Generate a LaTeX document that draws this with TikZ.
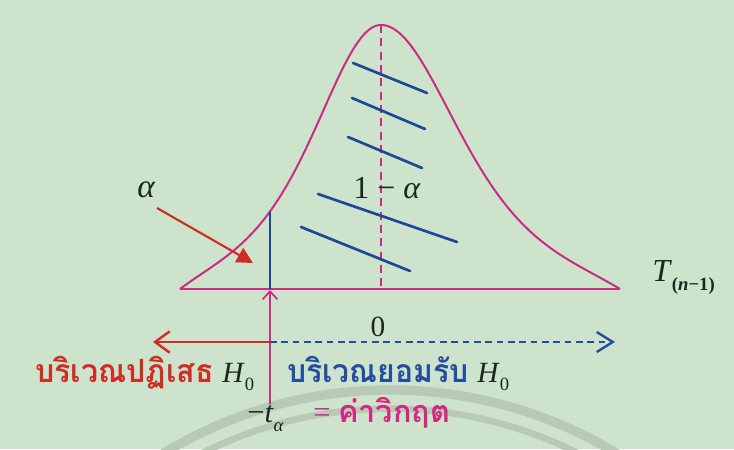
\documentclass[tikz,border=0pt]{standalone}
\usepackage{fontspec}
\setmainfont{Liberation Serif}
\newfontfamily\thaifont[Script=Thai]{Loma}
\usetikzlibrary{arrows.meta}
\definecolor{bgc}{RGB}{206,227,204}
\definecolor{arcc}{RGB}{184,202,182}
\definecolor{curvec}{RGB}{200,45,130}
\definecolor{hatchc}{RGB}{28,72,150}
\definecolor{redc}{RGB}{205,45,35}
\definecolor{bluec}{RGB}{35,78,160}
\definecolor{pinkc}{RGB}{210,40,130}
\definecolor{inkc}{RGB}{25,40,30}
\tikzset{
  curveline/.style={draw=curvec, line width=1.5pt},
  hatchline/.style={draw=hatchc, line width=2pt, line cap=round},
  mathlbl/.style={inner sep=0pt, text=inkc},
  thailbl/.style={inner sep=0pt, anchor=base west, font=\fontsize{24}{24}\selectfont\thaifont\bfseries},
}
\begin{document}
\begin{tikzpicture}[x=0.75pt,y=-0.75pt]
\fill[bgc] (0,0) rectangle (734,449);
\useasboundingbox (0,0) rectangle (734,449);
% watermark arcs
\begin{scope}
\clip (0,0) rectangle (734,449);
\draw[arcc, line width=7pt] (390,826) circle[radius=327pt];
\draw[arcc, line width=5pt] (390,826) circle[radius=313pt];
\end{scope}
% baseline and curve
\coordinate (bl) at (180,289);
\coordinate (br) at (620,289);
\coordinate (peak) at (381,25);
\coordinate (center0) at (381,289);
\draw[curveline] (bl) -- (br);
\draw[curveline, line join=round]
  plot[domain=180:381, samples=90, smooth]
    (\x, {289-264*(exp(-2.5*ln(1+((\x-381)/70)^2/4))-0.061*((381-\x)/201)^6)})
  -- plot[domain=381:620, samples=100, smooth]
    (\x, {289-264*(exp(-2.5*ln(1+((\x-381)/82)^2/4))-0.058*((\x-381)/239)^6)});
\draw[curvec, line width=1.5pt, dash pattern=on 6pt off 4pt] (peak) -- (center0);
% hatch lines
\draw[hatchline] (353,63) -- (427,93);
\draw[hatchline] (352,98) -- (425,129);
\draw[hatchline] (348,137) -- (422,168);
\draw[hatchline] (318,194) -- (457,242);
\draw[hatchline] (301,227) -- (410,271);
% critical value line
\coordinate (ctop) at (270,212);
\coordinate (cbase) at (270,289);
\draw[hatchc, line width=1.6pt] (ctop) -- (cbase);
% alpha label and arrow
\node[mathlbl, font=\fontsize{25}{25}\selectfont\itshape] (alpha) at (146,190) {α};
\coordinate (aStart) at (157,208);
\coordinate (aEnd) at (253,263);
\draw[redc, line width=1.6pt, -{Triangle[length=12pt,width=12pt]}] (aStart) -- (aEnd);
% 1 - alpha
\node[mathlbl, font=\fontsize{24}{24}\selectfont] (onemalpha) at (387,188) {1 − \textit{α}};
% T label
\node[mathlbl, anchor=base west, font=\fontsize{24}{24}\selectfont] (T) at (652,281) {\textit{T}\raisebox{-7pt}{\fontsize{14}{14}\selectfont\bfseries(\textit{n}−1)}};
% vertical arrow from critical value
\coordinate (tbot) at (270,404);
\coordinate (ttip) at (270,290);
\draw[curvec, line width=1.3pt, -{Straight Barb[length=6pt,width=11pt]}] (tbot) -- (ttip);
% region arrows
\coordinate (split) at (270,342);
\coordinate (rejEnd) at (153,342);
\coordinate (accEnd) at (615,342);
\draw[redc, line width=1.8pt, -{Straight Barb[length=11pt,width=16pt]}] (split) -- (rejEnd);
\draw[bluec, line width=1.8pt, dash pattern=on 5pt off 3.5pt, -{Straight Barb[length=12pt,width=15pt,line width=1.8pt]}] (split) -- (accEnd);
\node[mathlbl, font=\fontsize{22}{22}\selectfont] (zero) at (378,327) {0};
% region labels
\node[thailbl, text=redc] (rej) at (35,382) {\scalebox{0.95}[1]{บริเวณปฏิเสธ}};
\node[mathlbl, anchor=base west, font=\fontsize{22}{22}\selectfont] (H1) at (222,382) {\textit{H}\raisebox{-6pt}{\fontsize{14}{14}\selectfont 0}};
\node[thailbl, text=bluec] (acc) at (287,382) {\scalebox{0.94}[1]{บริเวณยอมรับ}};
\node[mathlbl, anchor=base west, font=\fontsize{22}{22}\selectfont] (H2) at (477,382) {\textit{H}\raisebox{-6pt}{\fontsize{14}{14}\selectfont 0}};
% critical value label
\node[mathlbl, anchor=base west, font=\fontsize{23}{23}\selectfont] (tlbl) at (247,422) {−\textit{t}\raisebox{-7pt}{\fontsize{14}{14}\selectfont\textit{α}}};
\node[inner sep=0pt, anchor=base west, text=pinkc, font=\fontsize{23}{23}\selectfont] (crit) at (313,422) {= {\thaifont\bfseries ค่าวิกฤต}};
\end{tikzpicture}
\end{document}
